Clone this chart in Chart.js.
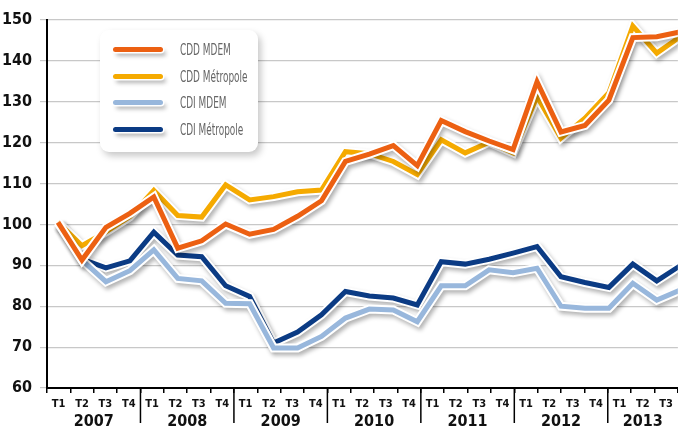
<!DOCTYPE html>
<html>
<head>
<meta charset="utf-8">
<script src="https://cdn.jsdelivr.net/npm/chart.js@4.4.1/dist/chart.umd.min.js"></script>
<style>
  body { margin: 0; background: #fff; }
  #wrap { position: relative; width: 678px; height: 428px; }
  #legend {
    position: absolute; left: 100px; top: 30px; width: 158px; height: 122px;
    background: #fff; border-radius: 9px;
    box-shadow: 3px 4px 7px rgba(0,0,0,0.22);
  }
  .item { position: absolute; left: 0; width: 158px; height: 26px; }
  .sample {
    position: absolute; left: 13px; top: 10px; width: 50px; height: 5px; border-radius: 3px;
    box-shadow: 0 0 0 1.5px #fff, 3px 4px 4px rgba(0,0,0,0.3);
  }
  .txt {
    position: absolute; left: 80px; top: 3px; white-space: nowrap;
    font: 16px "Liberation Sans Narrow", "DejaVu Sans Condensed", sans-serif; color: #666;
    transform: scaleX(0.62); transform-origin: left center;
  }
</style>
</head>
<body>
<div id="wrap">
  <canvas id="myChart"></canvas>
  <div id="legend"></div>
</div>
<script>
const quarterLabels = ['T1','T2','T3','T4','T1','T2','T3','T4','T1','T2','T3','T4','T1','T2','T3','T4',
                       'T1','T2','T3','T4','T1','T2','T3','T4','T1','T2','T3']
const yearLabels = ['2007','2008','2009','2010','2011','2012','2013']
const quartersPerYear = [4, 4, 4, 4, 4, 4, 3]

const cddMdem  = [100.5, 91.3, 99.3, 102.7, 106.7, 94.2, 96.0, 100.1, 97.6, 98.8, 102.0, 105.8, 115.4, 117.2,
                  119.3, 114.4, 125.4, 122.7, 120.4, 118.3, 134.9, 122.6, 124.2, 130.4, 145.7, 145.9, 147.1]
const cddMetro = [100.5, 94.8, 98.2, 101.9, 108.3, 102.2, 101.8, 109.7, 106.0, 106.8, 108.0, 108.4, 117.8, 117.3,
                  115.4, 112.2, 120.7, 117.5, 120.1, 117.5, 131.3, 121.1, 126.0, 132.2, 148.5, 141.9, 146.0]
const cdiMdem  = [100.4, 91.3, 86.0, 88.7, 93.8, 86.8, 86.2, 80.7, 80.6, 69.8, 69.8, 72.6, 77.1, 79.3,
                  79.1, 76.2, 85.0, 85.0, 88.9, 88.2, 89.3, 80.0, 79.5, 79.5, 85.6, 81.5, 84.0]
const cdiMetro = [100.4, 91.5, 89.4, 91.1, 98.1, 92.5, 92.1, 85.0, 82.4, 71.0, 73.7, 77.9, 83.6, 82.5,
                  82.0, 80.3, 90.9, 90.3, 91.5, 93.0, 94.6, 87.2, 85.8, 84.6, 90.3, 86.2, 90.0]

const series = [
  { label: 'CDD MDEM', values: cddMdem, color: '#ec6012' },
  { label: 'CDD Métropole', values: cddMetro, color: '#f5aa00' },
  { label: 'CDI MDEM', values: cdiMdem, color: '#98b7dc' },
  { label: 'CDI Métropole', values: cdiMetro, color: '#0b3b84' }
]

const boldFont = '"Liberation Sans Narrow", "DejaVu Sans Condensed", sans-serif'

let datasets = []
series.forEach((s, k) => {
  const pts = s.values.map((v, i) => ({ x: i, y: v }))
  datasets.push({
    label: s.label, data: pts, xAxisID: 'xd', borderColor: s.color, borderWidth: 5,
    pointRadius: 0, tension: 0, borderJoinStyle: 'miter', order: k * 2 + 1
  })
  datasets.push({
    label: s.label + ' outline', data: pts, xAxisID: 'xd', borderColor: '#fff', borderWidth: 9,
    pointRadius: 0, tension: 0, borderJoinStyle: 'miter', order: k * 2 + 2, isOutline: true
  })
})

// legend
const leg = document.getElementById('legend')
series.forEach((s, k) => {
  const it = document.createElement('div')
  it.className = 'item'
  it.style.top = (7 + k * 26.5) + 'px'
  it.innerHTML = '<div class="sample" style="background:' + s.color + '"></div><div class="txt">' + s.label + '</div>'
  leg.appendChild(it)
})

const shadowPlugin = {
  id: 'shadow',
  beforeDatasetDraw(chart, args) {
    if (!args.meta._dataset.isOutline) return
    const ctx = chart.ctx
    ctx.save()
    ctx.shadowColor = 'rgba(0,0,0,0.3)'
    ctx.shadowBlur = 4
    ctx.shadowOffsetX = 2
    ctx.shadowOffsetY = 3
  },
  afterDatasetDraw(chart, args) {
    if (args.meta._dataset.isOutline) chart.ctx.restore()
  }
}

const yearPlugin = {
  id: 'years',
  afterDraw(chart) {
    const ctx = chart.ctx
    const x = chart.scales.x
    const band = x.width / quarterLabels.length
    const top = chart.chartArea.bottom
    let start = 0
    ctx.save()
    ctx.fillStyle = '#111'
    ctx.strokeStyle = '#000'
    ctx.lineWidth = 1.5
    ctx.font = 'bold 16px ' + boldFont
    ctx.textAlign = 'center'
    ctx.textBaseline = 'middle'
    yearLabels.forEach((y, k) => {
      const x0 = x.left + start * band
      const x1 = x0 + quartersPerYear[k] * band
      ctx.fillText(y, (x0 + x1) / 2, top + 34)
      if (k < yearLabels.length - 1) {
        ctx.beginPath()
        ctx.moveTo(x1, top)
        ctx.lineTo(x1, top + 35)
        ctx.stroke()
      }
      start += quartersPerYear[k]
    })
    ctx.restore()
  }
}

var ctx = document.getElementById('myChart').getContext('2d')
var myChart = new Chart(ctx, {
  type: 'line',
  data: { datasets: datasets },
  options: {
    responsive: true,
    maintainAspectRatio: false,
    animation: false,
    layout: { padding: { top: 20, right: 0, left: 0, bottom: 0 } },
    plugins: { legend: { display: false }, tooltip: { enabled: false } },
    scales: {
      xd: { type: 'linear', display: false, min: -0.46, max: 25.88 },
      x: {
        type: 'category', labels: quarterLabels, offset: true,
        grid: { drawOnChartArea: false, drawTicks: true, tickLength: 5, color: '#000', lineWidth: 1.5, offset: true },
        border: { display: true, color: '#000', width: 2 },
        ticks: { autoSkip: false, maxRotation: 0, padding: 5, color: '#111', font: { family: boldFont, size: 11, weight: 'bold' } },
        afterFit: (s) => { s.height = 40 }
      },
      y: {
        min: 60, max: 150,
        ticks: { stepSize: 10, padding: 8, color: '#111', font: { family: boldFont, size: 16, weight: 'bold' } },
        grid: { color: '#c8c8c8', lineWidth: 1.2, tickLength: 7 },
        border: { display: true, color: '#000', width: 2 },
        afterFit: (s) => { s.width = 47 }
      }
    }
  },
  plugins: [shadowPlugin, yearPlugin]
})
</script>
</body>
</html>
